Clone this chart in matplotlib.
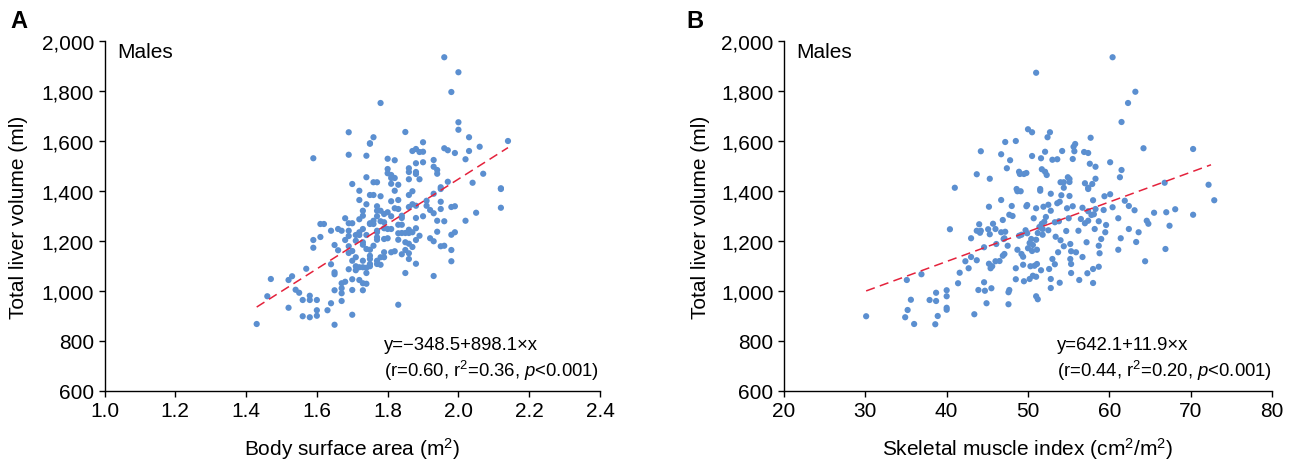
import numpy as np
import matplotlib
matplotlib.use('Agg')
from matplotlib import pyplot as plt
from matplotlib.ticker import StrMethodFormatter

plt.rcParams['font.family'] = ['Liberation Sans', 'DejaVu Sans']
plt.rcParams['mathtext.fontset'] = 'custom'
plt.rcParams['mathtext.rm'] = 'Liberation Sans'
plt.rcParams['mathtext.it'] = 'Liberation Sans:italic'
plt.rcParams['mathtext.default'] = 'regular'

# panel A: body surface area (m2) vs total liver volume (ml), males
bsa = [
    1.69, 1.75, 1.59, 1.69, 1.74, 1.74, 1.70,
    1.96, 2.00, 1.98, 1.78, 2.00, 2.00, 1.85, 1.76, 2.03, 2.14,
    1.75, 1.90, 2.06, 1.96, 1.97, 1.88, 1.87, 1.89, 1.90, 2.03,
    1.99, 1.80, 1.82, 1.93, 2.02, 1.88, 1.90, 1.93, 1.80, 1.86,
    1.94, 1.86, 1.88, 1.88, 1.80, 1.94, 1.81, 1.81, 1.82, 2.07,
    1.86, 1.89, 1.76, 1.77, 1.81, 1.83, 1.97, 2.04, 1.95, 2.12,
    1.72, 1.72, 1.74, 1.73, 1.73, 1.68, 1.72, 1.61, 1.62, 1.69,
    1.70, 1.75, 1.66, 1.67, 1.69, 1.64, 1.72, 1.73, 1.71, 1.72,
    1.74, 1.69, 1.61, 1.59, 1.68, 1.71, 1.73, 1.73, 1.65, 1.69,
    1.59, 1.74, 1.66, 1.70, 1.69, 1.75, 1.71, 1.70, 1.73, 1.64,
    1.75, 1.71, 1.72, 1.73, 1.74, 1.57, 1.69, 1.71, 1.74, 1.65,
    1.65, 1.53, 1.47, 1.52, 1.70, 1.68, 1.72, 1.73, 1.74, 1.67,
    1.67, 1.54, 1.55, 1.65, 1.70, 1.73, 1.67, 1.46, 1.58, 1.58,
    1.60, 1.56, 1.67, 1.64, 1.52, 1.60, 1.63, 1.60, 1.56, 1.58,
    1.70, 1.43, 1.65,
    1.75, 1.76, 1.78, 1.82, 1.86, 1.87, 1.93, 1.95, 2.12, 1.81,
    1.83, 1.77, 1.87, 1.86, 1.88, 1.91, 1.95, 1.91, 1.98, 1.99,
    1.95, 1.92, 1.77, 1.78, 1.80, 1.79, 1.82, 1.83, 1.93, 2.05,
    2.12, 1.77, 1.81, 1.84, 1.84, 1.88, 1.90, 1.76, 1.78, 1.79,
    1.75, 1.76, 1.94, 1.96, 2.02, 1.83, 1.84, 1.79, 1.80, 1.81,
    1.88, 1.86, 1.77, 1.77, 1.83, 1.84, 1.85, 1.86, 1.87, 1.94,
    1.99, 1.98, 1.89, 1.77, 1.77, 1.79, 1.80, 1.83, 1.88, 1.92,
    1.93, 1.85, 1.86, 1.76, 1.87, 1.95, 1.96, 1.75, 1.85, 1.98,
    1.79, 1.81, 1.82, 1.84, 1.86, 1.78, 1.79, 1.75, 1.86, 1.77,
    1.98, 1.77, 1.78, 1.75, 1.88, 1.85, 1.93, 1.83,
]
tlv_a = [
    1635, 1591, 1531, 1545, 1541, 1455, 1428,
    1935, 1875, 1796, 1752, 1675, 1645, 1636, 1615, 1615, 1600,
    1589, 1595, 1577, 1571, 1563, 1568, 1560, 1556, 1557, 1560,
    1552, 1529, 1523, 1524, 1527, 1511, 1515, 1497, 1488, 1491,
    1484, 1476, 1476, 1468, 1471, 1469, 1464, 1452, 1452, 1469,
    1447, 1447, 1435, 1435, 1429, 1425, 1437, 1433, 1415, 1411,
    1401, 1364, 1347, 1321, 1301, 1291, 1287, 1268, 1268, 1271,
    1271, 1271, 1248, 1241, 1241, 1241, 1235, 1248, 1224, 1224,
    1224, 1220, 1216, 1204, 1204, 1201, 1195, 1185, 1184, 1179,
    1173, 1168, 1163, 1160, 1152, 1141, 1135, 1121, 1121, 1107,
    1108, 1099, 1095, 1095, 1093, 1089, 1087, 1083, 1072, 1075,
    1067, 1059, 1048, 1044, 1047, 1037, 1044, 1031, 1029, 1031,
    1011, 1005, 993, 1003, 1004, 1003, 991, 979, 981, 964,
    964, 964, 960, 951, 933, 923, 923, 901, 899, 895,
    905, 868, 865,
    1384, 1384, 1379, 1401, 1384, 1399, 1389, 1408, 1408, 1359,
    1364, 1339, 1347, 1336, 1341, 1361, 1357, 1341, 1336, 1339,
    1328, 1324, 1321, 1321, 1315, 1308, 1331, 1328, 1311, 1313,
    1333, 1299, 1299, 1301, 1292, 1292, 1299, 1281, 1279, 1275,
    1268, 1268, 1281, 1279, 1281, 1265, 1265, 1251, 1248, 1248,
    1251, 1245, 1241, 1235, 1231, 1232, 1232, 1232, 1235, 1237,
    1235, 1225, 1221, 1215, 1205, 1208, 1211, 1205, 1204, 1211,
    1199, 1195, 1189, 1181, 1176, 1179, 1181, 1165, 1164, 1164,
    1155, 1155, 1159, 1147, 1151, 1135, 1135, 1128, 1128, 1121,
    1119, 1108, 1105, 1099, 1109, 1072, 1060, 945,
]

# panel B: skeletal muscle index (cm2/m2) vs total liver volume (ml), males
smi = [
    44.2, 43.7, 45.3, 41.0,
    60.4, 51.0, 63.2, 62.3, 61.5, 50.0, 50.5, 52.7, 52.4, 57.7,
    47.2, 48.5, 55.8, 55.6, 46.7, 52.1, 54.2, 55.7, 56.9, 57.4,
    50.5, 51.6, 53.0, 53.6, 55.5, 47.8, 57.6, 58.3, 60.1, 47.4,
    51.7, 52.1, 52.3, 48.9, 49.0, 49.5, 49.8, 61.5, 61.3, 54.9,
    55.1, 58.3, 54.0, 54.4, 55.1, 57.0, 57.9, 54.4, 57.4, 51.5,
    48.6,
    64.2, 70.3, 66.8, 72.2,
    45.2, 45.7, 44.0, 40.4, 43.7, 44.2, 44.1, 45.1, 45.3, 46.0,
    43.0, 44.6, 43.0, 42.3, 43.7, 45.2, 45.6, 45.4, 42.7, 41.6,
    36.9, 35.1, 44.6, 41.4, 45.5, 43.9, 44.7, 40.0, 38.7, 40.0,
    35.6, 37.9, 38.7, 44.9, 40.0, 40.0, 35.2, 43.4, 38.9, 30.1,
    34.9, 36.0, 38.6,
    48.7, 49.1, 51.5, 52.8, 54.1, 55.1, 57.4, 46.7, 59.4, 60.1,
    61.9, 58.0, 53.6, 53.9, 49.9, 49.8, 48.0, 51.0, 51.9, 52.5,
    55.5, 54.8, 56.7, 52.8, 60.4, 62.4, 63.1, 59.3, 58.3, 57.4,
    47.7, 48.1, 57.8, 58.1, 52.2, 50.7, 56.5, 55.0, 46.9, 57.4,
    52.0, 51.7, 53.3, 53.8, 57.0, 58.7, 61.1, 59.6, 51.4, 51.8,
    52.5, 54.7, 56.2, 58.2, 62.4, 46.7, 47.2, 49.7, 49.9, 49.2,
    48.9, 51.2, 51.8, 59.5, 63.6, 47.1, 47.0, 50.4, 51.0, 53.4,
    54.0, 57.2, 59.0, 61.4, 63.3, 46.1, 47.5, 50.2, 50.6, 55.2,
    54.4, 58.7, 50.0, 48.7, 50.5, 51.1, 55.3, 55.9, 53.7, 58.8,
    61.1, 47.1, 46.9, 49.2, 49.4, 56.7, 53.0, 55.2, 46.0, 46.5,
    49.4, 50.3, 50.8, 51.1, 53.3, 55.3, 58.7, 48.5, 51.6, 52.6,
    58.0, 55.3, 57.3, 50.6, 51.0, 50.2, 52.8, 48.5, 49.5, 56.3,
    53.9, 58.0, 52.8, 47.7, 47.6, 51.0, 51.2, 47.6,
    72.9, 65.5, 67.0, 68.1, 70.3, 64.6, 64.8, 67.4, 66.9, 64.4,
]
tlv_b = [
    1559, 1467, 1449, 1413,
    1935, 1873, 1797, 1752, 1676, 1647, 1635, 1635, 1615, 1613,
    1596, 1600, 1588, 1577, 1547, 1557, 1560, 1559, 1556, 1552,
    1540, 1531, 1525, 1527, 1528, 1523, 1509, 1497, 1515, 1491,
    1487, 1477, 1464, 1477, 1468, 1468, 1472, 1484, 1455, 1455,
    1448, 1449, 1435, 1435, 1436, 1431, 1428, 1413, 1413, 1408,
    1408,
    1571, 1568, 1433, 1425,
    1337, 1269, 1267, 1247, 1241, 1241, 1233, 1247, 1227, 1248,
    1211, 1175, 1136, 1119, 1123, 1109, 1099, 1091, 1091, 1073,
    1067, 1044, 1035, 1031, 1011, 1004, 1001, 1003, 993, 979,
    965, 964, 960, 951, 933, 925, 924, 907, 900, 899,
    895, 868, 867,
    1399, 1399, 1401, 1389, 1383, 1380, 1408, 1364, 1379, 1387,
    1361, 1363, 1351, 1357, 1344, 1339, 1340, 1331, 1337, 1345,
    1339, 1331, 1333, 1321, 1335, 1340, 1323, 1324, 1328, 1319,
    1305, 1300, 1304, 1307, 1296, 1291, 1288, 1291, 1284, 1281,
    1277, 1269, 1275, 1279, 1271, 1279, 1291, 1264, 1256, 1248,
    1243, 1240, 1241, 1248, 1248, 1235, 1237, 1243, 1231, 1225,
    1221, 1232, 1225, 1235, 1235, 1211, 1208, 1208, 1205, 1217,
    1203, 1195, 1208, 1211, 1196, 1188, 1181, 1192, 1184, 1188,
    1179, 1181, 1171, 1165, 1160, 1165, 1159, 1155, 1155, 1151,
    1165, 1148, 1141, 1148, 1137, 1136, 1128, 1128, 1119, 1120,
    1105, 1099, 1101, 1108, 1107, 1108, 1097, 1091, 1083, 1088,
    1088, 1072, 1071, 1061, 1057, 1048, 1048, 1047, 1039, 1044,
    1033, 1032, 1012, 1004, 995, 979, 967, 947,
    1363, 1313, 1315, 1327, 1305, 1281, 1269, 1261, 1168, 1119,
]

# regression lines as printed on the chart
fit_a = (-348.5, 898.1)
fit_b = (642.1, 11.9)
range_a = (1.43, 2.14)
range_b = (30.1, 72.5)

DOT = '#5b8fd0'
RED = '#e4223c'
FS = 15
FS_NOTE = 13.3


def style(ax, xlim, xticks, xfmt, xlabel):
    ax.set_xlim(*xlim)
    ax.set_ylim(600, 2000)
    ax.set_xticks(xticks)
    ax.set_yticks(np.arange(600, 2001, 200))
    ax.xaxis.set_major_formatter(StrMethodFormatter(xfmt))
    ax.yaxis.set_major_formatter(StrMethodFormatter('{x:,.0f}'))
    for s in ['top', 'right']:
        ax.spines[s].set_visible(False)
    for s in ['left', 'bottom']:
        ax.spines[s].set_linewidth(1.0)
    ax.tick_params(direction='out', length=4, width=1, labelsize=FS, pad=3.5)
    ax.set_ylabel('Total liver volume (ml)', fontsize=FS)
    ax.set_xlabel(xlabel, fontsize=FS)
    ax.text(0.025, 0.97, 'Males', transform=ax.transAxes, fontsize=FS,
            va='center', ha='left')


fig = plt.figure(figsize=(13.01, 4.64), dpi=100)
ax1 = fig.add_axes([104.5 / 1301, 72 / 464, 495.5 / 1301, 350 / 464])
ax2 = fig.add_axes([784 / 1301, 72 / 464, 488 / 1301, 350 / 464])

ax1.scatter(bsa, tlv_a, s=20, color=DOT, edgecolors='none', zorder=2)
xa = np.array(range_a)
ax1.plot(xa, fit_a[0] + fit_a[1] * xa, color=RED, lw=1.1, dashes=(6, 3.5), zorder=3)
style(ax1, (1.0, 2.4), np.arange(1.0, 2.41, 0.2), '{x:.1f}', 'Body surface area (m$^2$)')
ax1.yaxis.set_label_coords(-0.154, 0.5)
ax1.xaxis.set_label_coords(0.5, -0.125)
ax1.text(0.564, 0.134, 'y=\u2212348.5+898.1\u00d7x', transform=ax1.transAxes,
         fontsize=FS_NOTE, va='center', ha='left')
ax1.text(0.564, 0.06, '(r=0.60, r$^2$=0.36, $\\it{p}$<0.001)', transform=ax1.transAxes,
         fontsize=FS_NOTE, va='center', ha='left')

ax2.scatter(smi, tlv_b, s=20, color=DOT, edgecolors='none', zorder=2)
xb = np.array(range_b)
ax2.plot(xb, fit_b[0] + fit_b[1] * xb, color=RED, lw=1.1, dashes=(6, 3.5), zorder=3)
style(ax2, (20, 80), np.arange(20, 81, 10), '{x:.0f}', 'Skeletal muscle index (cm$^2$/m$^2$)')
ax2.yaxis.set_label_coords(-0.152, 0.5)
ax2.xaxis.set_label_coords(0.5, -0.125)
ax2.text(0.559, 0.134, 'y=642.1+11.9\u00d7x', transform=ax2.transAxes,
         fontsize=FS_NOTE, va='center', ha='left')
ax2.text(0.559, 0.06, '(r=0.44, r$^2$=0.20, $\\it{p}$<0.001)', transform=ax2.transAxes,
         fontsize=FS_NOTE, va='center', ha='left')

fig.text(10 / 1301, 1 - 22 / 464, 'A', fontsize=17, fontweight='bold', va='center', ha='left')
fig.text(686 / 1301, 1 - 22 / 464, 'B', fontsize=17, fontweight='bold', va='center', ha='left')

fig.savefig('out.png', dpi=100)
